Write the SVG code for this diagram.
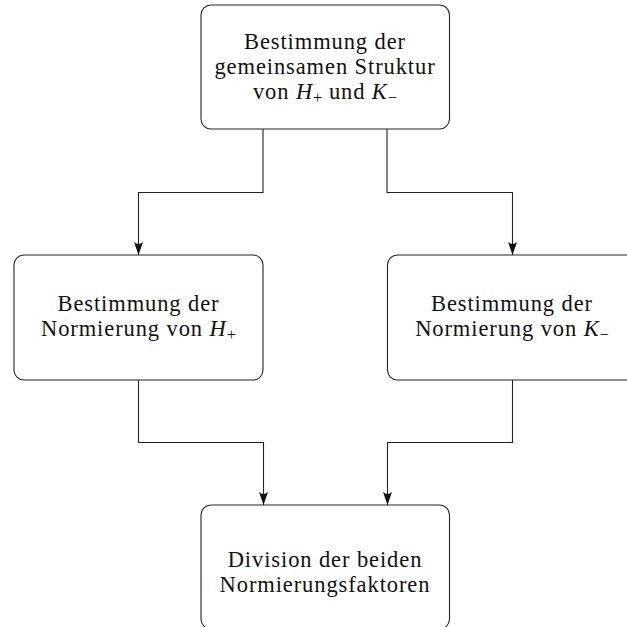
<svg xmlns="http://www.w3.org/2000/svg" width="627" height="627" viewBox="0 0 627 627">
<defs>
<style>
.box{fill:#fff;stroke:#222;stroke-width:1.1}
.t{font-family:"Liberation Serif","Times New Roman",serif;font-size:22.5px;letter-spacing:0.9px;fill:#111;text-anchor:middle}
.m{font-style:italic}
.s{font-size:16.5px;letter-spacing:0}
.c{fill:none;stroke:#222;stroke-width:1.1}
</style>
<marker id="ah" markerWidth="15" markerHeight="11" viewBox="-14 -5.5 15 11" refX="0" refY="0" orient="auto" markerUnits="userSpaceOnUse">
<path d="M0,0 L-13,-4.5 Q-9,0 -13,4.5 Z" fill="#111"/>
</marker>
</defs>
<g id="connectors">
<path class="c" d="M263,129 V192.5 H138.5 V255" marker-end="url(#ah)"/>
<path class="c" d="M387,129 V192.5 H512.5 V255" marker-end="url(#ah)"/>
<path class="c" d="M138.5,380 V442.5 H263.5 V505" marker-end="url(#ah)"/>
<path class="c" d="M512.5,380 V442.5 H387.5 V505" marker-end="url(#ah)"/>
</g>
<g id="n1">
<rect class="box" x="201" y="5" width="248.5" height="124" rx="10"/>
<text class="t" x="325" y="49">Bestimmung der</text>
<text class="t" x="325" y="74">gemeinsamen Struktur</text>
<text class="t" x="325" y="99">von <tspan class="m">H</tspan><tspan class="s" dy="4">+</tspan><tspan dy="-4"> und </tspan><tspan class="m">K</tspan><tspan class="s" dy="4">−</tspan></text>
</g>
<g id="n2">
<rect class="box" x="14" y="255" width="249" height="125" rx="10"/>
<text class="t" x="138.5" y="311">Bestimmung der</text>
<text class="t" x="138.5" y="336">Normierung von <tspan class="m">H</tspan><tspan class="s" dy="4">+</tspan></text>
</g>
<g id="n3">
<rect class="box" x="387.5" y="255" width="249" height="125" rx="10"/>
<text class="t" x="512" y="311">Bestimmung der</text>
<text class="t" x="512" y="336">Normierung von <tspan class="m">K</tspan><tspan class="s" dy="4">−</tspan></text>
</g>
<g id="n4">
<rect class="box" x="201" y="505" width="248.5" height="124" rx="10"/>
<text class="t" x="325" y="567">Division der beiden</text>
<text class="t" x="325" y="592">Normierungsfaktoren</text>
</g>
</svg>
